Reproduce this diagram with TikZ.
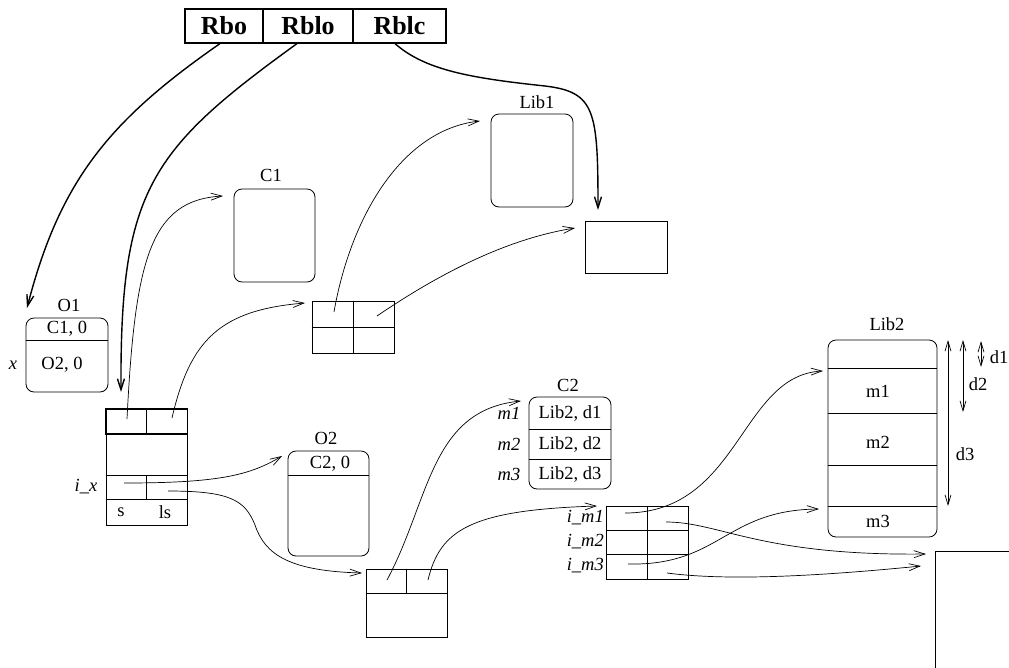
\documentclass[tikz,border=0pt]{standalone}
\usepackage{fontspec}
\setmainfont{Liberation Serif}
\usetikzlibrary{arrows.meta}

\begin{document}
\begin{tikzpicture}[x=1pt,y=-1pt]
\tikzstyle{lbl}=[font=\fontsize{18.5}{21}\selectfont,inner sep=0pt];
\tikzstyle{ilbl}=[inner sep=0pt,font=\fontsize{18.5}{21}\selectfont\itshape];
\tikzstyle{hdr}=[draw,line width=1.2pt,font=\fontsize{26}{30}\selectfont\bfseries,minimum height=34pt,inner sep=0pt];
\tikzstyle{obj}=[draw,rounded corners=8pt,line width=0.8pt,inner sep=0pt];
\tikzstyle{cell}=[draw,line width=0.8pt,inner sep=0pt];
\tikzstyle{ptr}=[-{Straight Barb[length=11pt,width=7pt]},line width=0.7pt];
\tikzstyle{bigptr}=[ptr,line width=1.4pt];
\tikzstyle{dim}=[{Straight Barb[length=10pt,width=6pt]}-{Straight Barb[length=10pt,width=6pt]},line width=0.7pt];

\useasboundingbox (0,0) rectangle (1009,667);

% roots
\node[hdr,minimum width=78pt] (rbo) at (224,26) {Rbo};
\node[hdr,minimum width=90pt] (rblo) at (308,26) {Rblo};
\node[hdr,minimum width=93pt] (rblc) at (399.5,26) {Rblc};

% O1
\node[obj,minimum width=82pt,minimum height=74pt] (o1) at (67,355) {};
\node[lbl] at (69,305) {O1};
\draw (o1.west |- 0,340) -- (o1.east |- 0,340);
\node[lbl] at (67,329) {C1, 0};
\node[lbl] at (62,365) {O2, 0};
\node[ilbl] at (13,365) {x};

% C1, Lib1
\node[obj,minimum width=81pt,minimum height=93pt] (c1) at (274.5,235.5) {};
\node[lbl] at (271,175) {C1};
\node[obj,minimum width=82pt,minimum height=93pt] (lib1) at (532,160.5) {};
\node[lbl] at (537,102) {Lib1};
\node[cell,minimum width=82pt,minimum height=52pt] (lcbox) at (626,247) {};

% small table
\node[cell,minimum width=82pt,minimum height=52pt] (tb) at (353,327) {};
\draw (tb.north) -- (tb.south);
\draw (tb.west) -- (tb.east);
\draw[line width=1.4pt] (tb.south west) -- (tb.south east);

% entry table
\node[cell,minimum width=81pt,minimum height=116pt] (ent) at (146.5,467) {};
\draw[line width=1.3pt] (ent.north west) rectangle (ent.east |- 0,434);
\draw (ent.north) -- (ent.center |- 0,434);
\draw (ent.west |- 0,475) -- (ent.east |- 0,475);
\draw (ent.west |- 0,499) -- (ent.east |- 0,499);
\draw (ent.center |- 0,475) -- (ent.center |- 0,499);
\node[lbl] at (121,512) {s};
\node[lbl] at (165,512) {ls};
\node[ilbl] at (86,487) {i\_x};

% O2
\node[obj,minimum width=81pt,minimum height=105pt] (o2) at (328.5,503.5) {};
\draw (o2.west |- 0,475) -- (o2.east |- 0,475);
\node[lbl] at (330,464) {C2, 0};
\node[lbl] at (326,438) {O2};

% lower table
\node[cell,minimum width=81pt,minimum height=68pt] (tl) at (406.5,603) {};
\draw (tl.west |- 0,593) -- (tl.east |- 0,593);
\draw (tl.north) -- (tl.center |- 0,593);

% C2
\node[obj,minimum width=82pt,minimum height=92pt] (c2) at (570,443) {};
\node[lbl] at (568,385) {C2};
\draw (c2.west |- 0,429) -- (c2.east |- 0,429);
\draw (c2.west |- 0,459) -- (c2.east |- 0,459);
\node[lbl] at (570,413) {Lib2, d1};
\node[lbl] at (570,444) {Lib2, d2};
\node[lbl] at (570,474) {Lib2, d3};
\node[ilbl] at (509,413) {m1};
\node[ilbl] at (509,444) {m2};
\node[ilbl] at (509,474) {m3};

% method table
\node[cell,minimum width=82pt,minimum height=73pt] (im) at (647,542.5) {};
\draw (im.north) -- (im.south);
\draw (im.west |- 0,530) -- (im.east |- 0,530);
\draw (im.west |- 0,554) -- (im.east |- 0,554);
\node[ilbl,anchor=east] at (604,518) {i\_m1};
\node[ilbl,anchor=east] at (604,542) {i\_m2};
\node[ilbl,anchor=east] at (604,566) {i\_m3};

% Lib2
\node[obj,minimum width=109pt,minimum height=197pt] (lib2) at (882.5,438.5) {};
\node[lbl] at (887,324) {Lib2};
\foreach \y in {368,413,465,506}
  \draw (lib2.west |- 0,\y) -- (lib2.east |- 0,\y);
\node[lbl] at (878,391) {m1};
\node[lbl] at (878,442) {m2};
\node[lbl] at (878,521) {m3};

% offsets
\coordinate (d1a) at (981,341);
\coordinate (d1b) at (981,367);
\coordinate (d2a) at (963,340);
\coordinate (d2b) at (963,412);
\coordinate (d3a) at (948,340);
\coordinate (d3b) at (948,506);
\draw[dim] (d1a) -- (d1b);
\draw[dim] (d2a) -- (d2b);
\draw[dim] (d3a) -- (d3b);
\node[lbl] at (999,357) {d1};
\node[lbl] at (978,384) {d2};
\node[lbl] at (965,454) {d3};

% code area
\begin{scope}
\clip (0,0) rectangle (1009,667);
\node[cell,anchor=north west,minimum width=120pt,minimum height=150pt] (code) at (935,551) {};
\end{scope}

% pointer ends
\coordinate (o1in) at (27,308);
\coordinate (entin) at (121,392);
\coordinate (lcin) at (598,210);
\coordinate (entl) at (127,419);
\coordinate (entr) at (172,418);
\coordinate (ixl) at (124,483);
\coordinate (ixr) at (168,491);
\coordinate (c1in) at (223,196);
\coordinate (tbin) at (305,303);
\coordinate (o2in) at (282,456);
\coordinate (tlin) at (362,573);
\coordinate (tbl) at (334,312);
\coordinate (tbr) at (377,316);
\coordinate (lib1in) at (480,121);
\coordinate (lcin2) at (575,228);
\coordinate (tll) at (387,580);
\coordinate (tlr) at (428,580);
\coordinate (c2in) at (521,401);
\coordinate (imin) at (597,506);
\coordinate (m1l) at (625,513);
\coordinate (m1r) at (666,522);
\coordinate (m3l) at (628,564);
\coordinate (m3r) at (667,573);
\coordinate (lib2m1) at (823,371);
\coordinate (lib2m3) at (819,509);
\coordinate (codea) at (926,554);
\coordinate (codeb) at (921,566);

% root pointers
\draw[bigptr] ([xshift=-4pt]rbo.south) .. controls (110,120) and (60,180) .. (o1in);
\draw[bigptr] ([xshift=-11pt]rblo.south) .. controls (150,150) and (120,190) .. (entin);
\draw[bigptr] ([xshift=-4.5pt]rblc.south) .. controls (425,70) and (470,78) .. (545,86)
  .. controls (595,92) and (598,110) .. (lcin);

% pointers
\draw[ptr] (entl) .. controls (135,260) and (150,200) .. (c1in);
\draw[ptr] (entr) .. controls (190,340) and (220,310) .. (tbin);
\draw[ptr] (ixl) .. controls (220,483) and (250,475) .. (o2in);
\draw[ptr] (ixr) .. controls (230,491) and (245,500) .. (255,525)
  .. controls (265,555) and (290,571) .. (tlin);
\draw[ptr] (tbl) .. controls (350,220) and (400,130) .. (lib1in);
\draw[ptr] (tbr) .. controls (430,280) and (500,240) .. (lcin2);
\draw[ptr] (tll) .. controls (430,500) and (430,410) .. (c2in);
\draw[ptr] (tlr) .. controls (440,530) and (470,510) .. (imin);
\draw[ptr] (m1l) .. controls (740,513) and (740,375) .. (lib2m1);
\draw[ptr] (m1r) .. controls (720,522) and (760,556) .. (codea);
\draw[ptr] (m3l) .. controls (720,566) and (725,510) .. (lib2m3);
\draw[ptr] (m3r) .. controls (720,580) and (800,578) .. (codeb);
\end{tikzpicture}
\end{document}
